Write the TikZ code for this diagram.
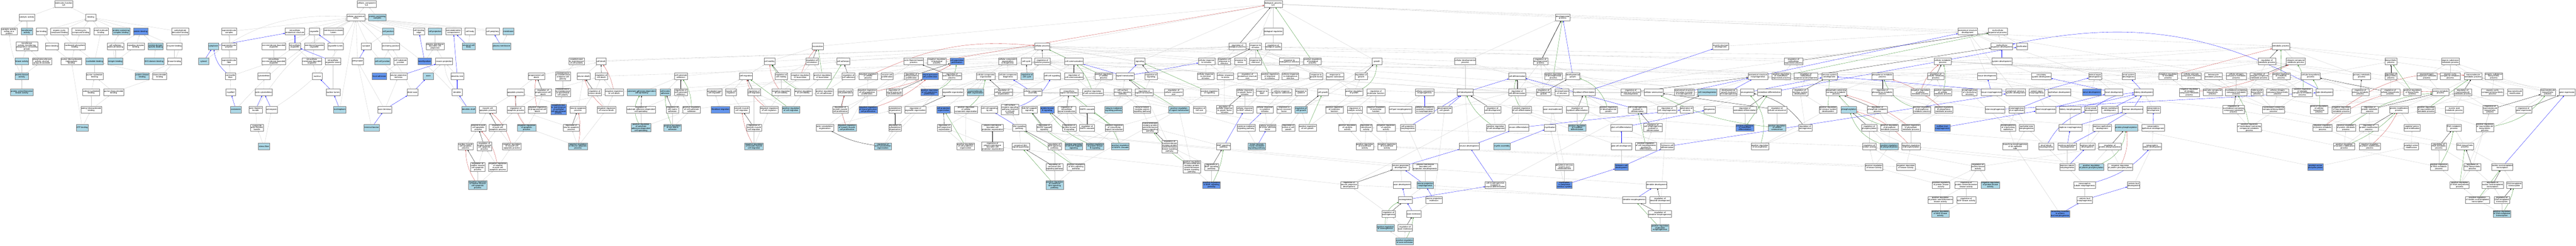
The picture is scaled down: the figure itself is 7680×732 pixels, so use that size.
\documentclass[tikz,border=0pt]{standalone}
\usepackage{fontspec}
\setmainfont{Liberation Sans}
\usetikzlibrary{arrows.meta,backgrounds}
\definecolor{hitblue}{HTML}{ADD8E6}
\definecolor{keyblue}{HTML}{6495ED}
\definecolor{edgegray}{HTML}{C8C8C8}
\definecolor{negred}{HTML}{C83C3C}
\definecolor{posgreen}{HTML}{2E8B22}
\begin{document}
\begin{tikzpicture}[x=1pt, y=-1pt,
  term/.style={rectangle, draw=black!50, line width=.7pt, fill=white, align=center, inner xsep=1.2pt, inner ysep=1pt, minimum width=30pt, minimum height=20pt, font=\fontsize{6.2}{5.8}\selectfont},
  termhit/.style={term, fill=hitblue},
  termkey/.style={term, fill=keyblue},
  isa/.style={draw=edgegray, line width=.5pt, -{Triangle[length=4pt,width=3pt]}},
  partof/.style={isa, draw=blue},
  regl/.style={isa, draw=black},
  negreg/.style={isa, draw=negred},
  posreg/.style={isa, draw=posgreen}]
\useasboundingbox (0,0) rectangle (7680,732);
% molecular function
\node[term] (mf) at (190,12) {molecular\_function\\ILK};
\node[term] (catact) at (80,52) {catalytic activity};
\node[term] (bind) at (271,52) {binding};
\node[term] (catprot) at (27,94) {catalytic activity,\\acting on a\\protein};
\node[termhit] (transf) at (80,94) {transferase\\activity};
\node[term] (ionb) at (124,94) {ion binding};
\node[term] (orgcyc) at (177,94) {organic cyclic\\compound binding};
\node[term] (hetcyc) at (241,94) {heterocyclic\\compound binding};
\node[term] (smallmol) at (301,94) {small molecule\\binding};
\node[termhit] (pccb) at (361,94) {protein-containing\\complex binding};
\node[termkey] (protb) at (419,94) {protein binding};
\node[term] (carbo) at (537,94) {carbohydrate\\derivative binding};
\node[term] (transphos) at (80,138) {transferase\\activity, transferring\\phosphorus-containing\\groups};
\node[term] (anion) at (155,138) {anion binding};
\node[term] (nucphos) at (223,138) {nucleoside phosphate\\binding};
\node[term] (cellad) at (344,138) {cell adhesion\\molecule binding};
\node[term] (sigrec) at (405,138) {signaling receptor\\binding};
\node[termhit] (domspec) at (464,138) {protein domain\\specific binding};
\node[term] (enzb) at (520,138) {enzyme binding};
\node[termhit] (kinact) at (65,183) {kinase activity};
\node[term] (phostr) at (125,183) {phosphotransferase\\activity, alcohol\\group as acceptor};
\node[term] (purtri) at (213,183) {purine ribonucleoside\\triphosphate\\binding};
\node[termhit] (nuctb) at (282,183) {nucleotide binding};
\node[termhit] (integ) at (344,183) {integrin binding};
\node[termhit] (sh3) at (459,183) {SH3 domain binding};
\node[term] (kinb) at (520,183) {kinase binding};
\node[termhit] (pka) at (65,227) {protein kinase\\activity};
\node[term] (purnuc) at (282,227) {purine nucleotide\\binding};
\node[termhit] (pkb) at (424,227) {protein kinase\\binding};
\node[term] (ribonuc) at (476,227) {ribonucleotide\\binding};
\node[termhit] (pstk) at (65,275) {protein serine/threonine\\kinase activity};
\node[term] (adenuc) at (272,275) {adenyl nucleotide\\binding};
\node[term] (purribo) at (339,275) {purine ribonucleotide\\binding};
\node[term] (aderibo) at (272,326) {adenyl ribonucleotide\\binding};
\node[termhit] (atpb) at (245,380) {ATP binding};
\begin{pgfonlayer}{background}
\draw[isa](catact) -- (mf);
\draw[isa](bind) -- (mf);
\draw[isa](catprot) -- (catact);
\draw[isa](transf) -- (catact);
\draw[isa](ionb) -- (bind);
\draw[isa](orgcyc) -- (bind);
\draw[isa](hetcyc) -- (bind);
\draw[isa](smallmol) -- (bind);
\draw[isa](pccb) -- (bind);
\draw[isa](protb) -- (bind);
\draw[isa](carbo) -- (bind);
\draw[isa](transphos) -- (transf);
\draw[isa](anion) -- (ionb);
\draw[isa](nucphos) -- (orgcyc);
\draw[isa](nucphos) -- (hetcyc);
\draw[isa](cellad) -- (protb);
\draw[isa](sigrec) -- (protb);
\draw[isa](domspec) -- (protb);
\draw[isa](enzb) -- (protb);
\draw[isa](kinact) -- (transphos);
\draw[isa](phostr) -- (transphos);
\draw[isa](purtri) -- (anion);
\draw[isa](purtri) -- (nucphos);
\draw[isa](nuctb) -- (nucphos);
\draw[isa](nuctb) -- (smallmol);
\draw[isa](integ) -- (cellad);
\draw[isa](integ) -- (sigrec);
\draw[isa](integ) to[bend left=25] (pccb);
\draw[isa](sh3) -- (domspec);
\draw[isa](kinb) -- (enzb);
\draw[isa](pka) -- (kinact);
\draw[isa](pka) -- (phostr);
\draw[isa](pka) to[bend left=10] (catprot);
\draw[isa](purnuc) -- (nuctb);
\draw[isa](pkb) -- (kinb);
\draw[isa](ribonuc) -- (nuctb);
\draw[isa](ribonuc) to[bend right=25] (carbo);
\draw[isa](pstk) -- (pka);
\draw[isa](adenuc) -- (purnuc);
\draw[isa](purribo) -- (purnuc);
\draw[isa](purribo) -- (ribonuc);
\draw[isa](aderibo) -- (adenuc);
\draw[isa](aderibo) -- (purribo);
\draw[isa](atpb) -- (aderibo);
\draw[isa](atpb) -- (purtri);
\end{pgfonlayer}
% cellular component
\node[term] (cc) at (1093,12) {cellular\_component\\ILK};
\node[term] (cae) at (1061,52) {cellular anatomical\\entity};
\node[termhit] (pcc) at (1125,52) {protein-containing\\complex};
\node[term] (supcx) at (683,94) {supramolecular\\complex};
\node[term] (ias) at (879,94) {intracellular\\anatomical structure};
\node[term] (organ) at (937,94) {organelle};
\node[term] (mel) at (994,94) {membrane-enclosed\\lumen};
\node[termhit] (celljn) at (1157,94) {cell junction};
\node[term] (cle) at (1249,94) {cell leading\\edge};
\node[termhit] (cproj) at (1297,94) {cell projection};
\node[term] (somato) at (1352,94) {somatodendritic\\compartment};
\node[term] (cbody) at (1401,94) {cell body};
\node[term] (cperi) at (1469,94) {cell periphery};
\node[termhit] (memb) at (1516,94) {membrane};
\node[termhit] (cytopl) at (636,138) {cytoplasm};
\node[term] (suppol) at (683,138) {supramolecular\\polymer};
\node[term] (nmbo) at (816,138) {non-membrane-bounded\\organelle};
\node[term] (iorg) at (879,138) {intracellular\\organelle};
\node[term] (mbo) at (937,138) {membrane-bounded\\organelle};
\node[term] (olum) at (1000,138) {organelle lumen};
\node[term] (synapse) at (1092,138) {synapse};
\node[term] (anchj) at (1165,138) {anchoring junction};
\node[term] (pmbcp) at (1297,138) {plasma membrane\\bounded cell\\projection};
\node[termhit] (ncb) at (1397,138) {neuronal cell\\body};
\node[termhit] (pm) at (1495,138) {plasma membrane};
\node[termhit] (cytosol) at (607,183) {cytosol};
\node[term] (supfib) at (683,183) {supramolecular\\fiber};
\node[term] (inmbo) at (816,183) {intracellular\\non-membrane-bounded\\organelle};
\node[term] (imbo) at (930,183) {intracellular\\membrane-bounded\\organelle};
\node[term] (iol) at (993,183) {intracellular\\organelle lumen};
\node[term] (presyn) at (1066,183) {presynapse};
\node[termhit] (ccj) at (1140,183) {cell-cell junction};
\node[term] (csj) at (1194,183) {cell-substrate\\junction};
\node[termkey] (lamel) at (1266,183) {lamellipodium};
\node[term] (nproj) at (1324,183) {neuron projection};
\node[term] (cfib) at (687,227) {contractile\\fiber};
\node[term] (cytosk) at (787,227) {cytoskeleton};
\node[term] (nucleus) at (946,227) {nucleus};
\node[termkey] (focad) at (1131,227) {focal adhesion};
\node[term] (npt) at (1188,227) {neuron projection\\terminus};
\node[termhit] (axon) at (1277,227) {axon};
\node[term] (dtree) at (1363,227) {dendritic tree};
\node[term] (myofib) at (688,275) {myofibril};
\node[term] (actcsk) at (786,275) {actin cytoskeleton};
\node[term] (nuclum) at (993,275) {nuclear lumen};
\node[term] (distax) at (1230,275) {distal axon};
\node[term] (dendr) at (1363,275) {dendrite};
\node[termhit] (costa) at (703,326) {costamere};
\node[term] (afb) at (762,326) {actin filament\\bundle};
\node[term] (actomy) at (810,326) {actomyosin};
\node[termhit] (nucpl) at (1013,326) {nucleoplasm};
\node[term] (axterm) at (1147,326) {axon terminus};
\node[termhit] (dshaft) at (1397,326) {dendritic shaft};
\node[term] (cafb) at (766,380) {contractile\\actin filament\\bundle};
\node[termhit] (tbout) at (1108,380) {terminal bouton};
\node[termhit] (sfib) at (787,436) {stress fiber};
\begin{pgfonlayer}{background}
\draw[isa](cae) -- (cc);
\draw[isa](pcc) -- (cc);
\draw[isa](supcx) -- (cae);
\draw[isa](ias) -- (cae);
\draw[isa](organ) -- (cae);
\draw[isa](mel) -- (cae);
\draw[isa](celljn) -- (cae);
\draw[isa](cle) -- (cae);
\draw[isa](cproj) -- (cae);
\draw[isa](somato) -- (cae);
\draw[isa](cbody) -- (cae);
\draw[isa](cperi) -- (cae);
\draw[isa](memb) -- (cae);
\draw[isa](suppol) -- (supcx);
\draw[isa](nmbo) -- (organ);
\draw[isa](iorg) -- (organ);
\draw[isa](mbo) -- (organ);
\draw[isa](olum) -- (mel);
\draw[isa](synapse) -- (celljn);
\draw[isa](anchj) -- (celljn);
\draw[isa](pmbcp) -- (cproj);
\draw[isa](ncb) -- (cbody);
\draw[isa](pm) -- (memb);
\draw[isa](supfib) -- (suppol);
\draw[isa](inmbo) -- (nmbo);
\draw[isa](inmbo) -- (iorg);
\draw[isa](imbo) -- (mbo);
\draw[isa](imbo) -- (iorg);
\draw[isa](iol) -- (olum);
\draw[isa](ccj) -- (anchj);
\draw[isa](csj) -- (anchj);
\draw[isa](lamel) -- (pmbcp);
\draw[isa](nproj) -- (pmbcp);
\draw[isa](cfib) -- (supfib);
\draw[isa](cfib) -- (inmbo);
\draw[isa](cytosk) -- (inmbo);
\draw[isa](nucleus) -- (imbo);
\draw[isa](focad) -- (csj);
\draw[isa](npt) to[bend left=15] (cae);
\draw[isa](axon) -- (nproj);
\draw[isa](dtree) -- (nproj);
\draw[isa](myofib) -- (cfib);
\draw[isa](actcsk) -- (cytosk);
\draw[isa](nuclum) -- (iol);
\draw[isa](distax) to[bend right=10] (cae);
\draw[isa](dendr) to[bend left=15] (nproj);
\draw[isa](costa) to[bend left=10] (cae);
\draw[isa](afb) to[bend left=15] (cae);
\draw[isa](actomy) to[bend right=15] (cae);
\draw[isa](nucpl) -- (cae);
\draw[isa](presyn) -- (cae);
\draw[isa](cytosol) to[bend left=20] (cae);
\draw[isa](axterm) -- (npt);
\draw[isa](axterm) -- (presyn);
\draw[isa](dshaft) to[bend right=10] (cae);
\draw[isa](cafb) -- (afb);
\draw[isa](tbout) -- (presyn);
\draw[isa](sfib) -- (cafb);
\draw[isa](sfib) -- (actomy);
\draw[partof](cytopl) -- (ias);
\draw[partof](cytosol) -- (cytopl);
\draw[partof](iorg) -- (ias);
\draw[partof](olum) -- (organ);
\draw[partof](iol) -- (iorg);
\draw[partof](presyn) -- (synapse);
\draw[partof](lamel) -- (cle);
\draw[partof](npt) -- (nproj);
\draw[partof](ncb) -- (somato);
\draw[partof](pm) -- (cperi);
\draw[partof](cfib) to[bend left=20] (cytopl);
\draw[partof](dtree) -- (somato);
\draw[partof](nuclum) -- (nucleus);
\draw[partof](distax) -- (axon);
\draw[partof](dendr) -- (dtree);
\draw[partof](costa) -- (myofib);
\draw[partof](afb) -- (actcsk);
\draw[partof](actomy) -- (actcsk);
\draw[partof](nucpl) -- (nuclum);
\draw[partof](axterm) -- (distax);
\draw[partof](dshaft) -- (dendr);
\draw[partof](tbout) -- (axterm);
\end{pgfonlayer}
% biological process
\node[term] (apop) at (1537,275) {apoptotic process};
\node[term] (pcd) at (1599,227) {programmed cell\\death};
\node[term] (mcap) at (1454,326) {muscle cell\\apoptotic process};
\node[term] (regap) at (1538,326) {regulation of\\apoptotic process};
\node[term] (smcap) at (1426,380) {striated muscle\\cell apoptotic\\process};
\node[term] (regmcap) at (1484,380) {regulation of\\muscle cell\\apoptotic process};
\node[termhit] (nregap) at (1570,380) {negative regulation\\of apoptotic\\process};
\node[term] (cmcap) at (1388,436) {cardiac muscle\\cell apoptotic\\process};
\node[term] (regsmcap) at (1444,436) {regulation of\\striated muscle\\cell apoptotic\\process};
\node[term] (nregmcap) at (1526,436) {negative regulation\\of muscle cell\\apoptotic process};
\node[term] (regcmcap) at (1424,497) {regulation of\\cardiac muscle\\cell apoptotic\\process};
\node[term] (nregsmcap) at (1484,497) {negative regulation\\of striated\\muscle cell\\apoptotic process};
\node[termhit] (nregcmcap) at (1424,551) {negative regulation\\of cardiac muscle\\cell apoptotic\\process};
\node[term] (ecpol) at (1719,183) {establishment\\or maintenance\\of cell polarity};
\node[term] (celldeath) at (1792,183) {cell death};
\node[term] (cmot) at (2294,183) {cell motility};
\node[term] (regloc) at (2421,183) {regulation of\\locomotion};
\node[term] (cadh) at (2514,183) {cell adhesion};
\node[term] (locom) at (2438,138) {locomotion};
\node[term] (ebpol) at (1678,227) {establishment\\or maintenance\\of bipolar cell\\polarity};
\node[term] (ndeath) at (1740,227) {neuron death};
\node[term] (regcd) at (1793,227) {regulation of\\cell death};
\node[term] (csadh) at (2030,227) {cell-substrate\\adhesion};
\node[term] (cmig) at (2224,227) {cell migration};
\node[term] (regcmot) at (2329,227) {regulation of\\cell motility};
\node[term] (nregloc) at (2386,227) {negative regulation\\of locomotion};
\node[term] (pregloc) at (2452,227) {positive regulation\\of locomotion};
\node[term] (regcadh) at (2530,227) {regulation of\\cell adhesion};
\node[term] (regpcd) at (1619,275) {regulation of\\programmed cell\\death};
\node[term] (eapol) at (1678,275) {establishment\\or maintenance\\of apical/basal\\cell polarity};
\node[term] (regnd) at (1773,275) {regulation of\\neuron death};
\node[term] (nregcd) at (1831,275) {negative regulation\\of cell death};
\node[termhit] (sadcs) at (1913,275) {substrate adhesion-dependent\\cell spreading};
\node[termhit] (cmadh) at (1983,275) {cell-matrix\\adhesion};
\node[term] (regcsadh) at (2030,275) {regulation of\\cell-substrate\\adhesion};
\node[term] (ameb) at (2130,275) {ameboidal-type\\cell migration};
\node[term] (mcmig) at (2179,275) {muscle cell\\migration};
\node[term] (regcmig) at (2248,275) {regulation of\\cell migration};
\node[term] (nregcmot) at (2329,275) {negative regulation\\of cell motility};
\node[term] (pregcmot) at (2395,275) {positive regulation\\of cell motility};
\node[term] (pregcadh) at (2458,275) {positive regulation\\of cell adhesion};
\node[term] (smcprol) at (2520,275) {smooth muscle\\cell proliferation};
\node[term] (nregpcd) at (1602,326) {negative regulation\\of programmed cell\\death};
\node[termkey] (eepol) at (1665,326) {establishment\\or maintenance\\of epithelial\\cell apical/basal\\polarity};
\node[term] (napop) at (1723,326) {neuron apoptotic\\process};
\node[term] (nregnd) at (1808,326) {negative regulation\\of neuron death};
\node[term] (regsadcs) at (1911,326) {regulation of\\substrate adhesion-dependent\\cell spreading};
\node[term] (regcmadh) at (2005,326) {regulation of\\cell-matrix\\adhesion};
\node[term] (pregcsadh) at (2062,326) {positive regulation\\of cell-substrate\\adhesion};
\node[termkey] (fibmig) at (2148,326) {fibroblast migration};
\node[term] (smcmig) at (2211,326) {smooth muscle\\cell migration};
\node[term] (nregcmig) at (2293,326) {negative regulation\\of cell migration};
\node[termhit] (pregcmig) at (2358,326) {positive regulation\\of cell migration};
\node[term] (regsmcprol) at (2505,326) {regulation of\\smooth muscle\\cell proliferation};
\node[term] (regnap) at (1703,380) {regulation of\\neuron apoptotic\\process};
\node[termhit] (pregsadcs) at (1911,380) {positive regulation\\of substrate\\adhesion-dependent\\cell spreading};
\node[termhit] (pregcmadh) at (2005,380) {positive regulation\\of cell-matrix\\adhesion};
\node[term] (regsmcmig) at (2248,380) {regulation of\\smooth muscle\\cell migration};
\node[term] (actcsko) at (2459,380) {actin cytoskeleton\\organization};
\node[termhit] (nregsmcprol) at (2525,380) {negative regulation\\of smooth muscle\\cell proliferation};
\node[termhit] (nregnap) at (1723,436) {negative regulation\\of neuron apoptotic\\process};
\node[termhit] (nregsmcmig) at (2248,436) {negative regulation\\of smooth muscle\\cell migration};
\node[term] (cellproc) at (3107,138) {cellular process};
\node[term] (afbp) at (2724,183) {actin filament-based\\process};
\node[term] (nregbp) at (2793,183) {negative regulation\\of biological\\process};
\node[termkey] (cpp) at (2853,183) {cell population\\proliferation};
\node[term] (ccob) at (3004,183) {cellular component\\organization\\or biogenesis};
\node[term] (ccycle) at (3060,183) {cell cycle};
\node[term] (regcp) at (3108,183) {regulation of\\cellular process};
\node[term] (ccomm) at (3202,183) {cell communication};
\node[term] (signaling) at (3398,183) {signaling};
\node[term] (nregcp) at (2588,227) {negative regulation\\of cellular\\process};
\node[term] (mcprol) at (2645,227) {muscle cell\\proliferation};
\node[term] (regcpp) at (2717,227) {regulation of\\cell population\\proliferation};
\node[termkey] (npcp) at (2773,227) {neural precursor\\cell proliferation};
\node[term] (regafbp) at (2838,227) {regulation of\\actin filament-based\\process};
\node[term] (cco) at (2939,227) {cellular component\\organization};
\node[term] (ccb) at (3005,227) {cellular component\\biogenesis};
\node[termhit] (regcc) at (3062,227) {regulation of\\cell cycle};
\node[term] (ccsig) at (3137,227) {cell-cell signaling};
\node[term] (regccomm) at (3202,227) {regulation of\\cell communication};
\node[term] (pregcp) at (3290,227) {positive regulation\\of cellular\\process};
\node[term] (sigtr) at (3354,227) {signal transduction};
\node[term] (regsig) at (3432,227) {regulation of\\signaling};
\node[term] (nregcpp) at (2585,275) {negative regulation\\of cell population\\proliferation};
\node[term] (regnpcp) at (2666,275) {regulation of\\neural precursor\\cell proliferation};
\node[termkey] (pregcpp) at (2771,275) {positive regulation\\of cell population\\proliferation};
\node[term] (orgo) at (2841,275) {organelle organization};
\node[termhit] (sfo) at (2908,275) {supramolecular\\fiber organization};
\node[term] (regcco) at (2992,275) {regulation of\\cellular component\\organization};
\node[term] (cca) at (3079,275) {cellular component\\assembly};
\node[term] (ist) at (3187,275) {intracellular\\signal transduction};
\node[term] (pregccomm) at (3258,275) {positive regulation\\of cell communication};
\node[term] (csrsp) at (3347,275) {cell surface\\receptor signaling\\pathway};
\node[term] (regst) at (3411,275) {regulation of\\signal transduction};
\node[term] (regccs) at (3499,275) {regulation of\\cellular component\\size};
\node[termkey] (nregnpcp) at (2588,326) {negative regulation\\of neural precursor\\cell proliferation};
\node[term] (csko) at (2668,326) {cytoskeleton\\organization};
\node[term] (regorgo) at (2729,326) {regulation of\\organelle organization};
\node[termkey] (cpo) at (2813,326) {cell projection\\organization};
\node[term] (pregcco) at (2880,326) {positive regulation\\of cellular\\component organization};
\node[term] (ccswnt) at (2950,326) {cell-cell signaling\\by wnt};
\node[term] (csrccs) at (3011,326) {cell surface\\receptor signaling\\pathway involved\\in cell-cell\\signaling};
\node[term] (nfkb) at (3069,326) {NIK/NF-kappaB\\signaling};
\node[termkey] (pkbs) at (3122,326) {protein kinase\\B signaling};
\node[term] (regist) at (3180,326) {regulation of\\intracellular\\signal transduction};
\node[term] (mapk) at (3241,326) {MAPK cascade};
\node[termhit] (intsig) at (3320,326) {integrin-mediated\\signaling pathway};
\node[term] (elrp) at (3405,326) {enzyme-linked\\receptor protein\\signaling pathway};
\node[termhit] (pregst) at (3515,326) {positive regulation\\of signal transduction};
\node[term] (regcsko) at (2668,380) {regulation of\\cytoskeleton\\organization};
\node[term] (regcpo) at (2815,380) {regulation of\\cell projection\\organization};
\node[term] (pmbcpo) at (2959,380) {plasma membrane\\bounded cell\\projection organization};
\node[term] (wnt) at (3039,380) {Wnt signaling\\pathway};
\node[term] (regnfkb) at (3113,380) {regulation of\\NIK/NF-kappaB\\signaling};
\node[term] (regpkbs) at (3188,380) {regulation of\\protein kinase\\B signaling};
\node[term] (regmapk) at (3241,380) {regulation of\\MAPK cascade};
\node[term] (pregist) at (3322,380) {positive regulation\\of intracellular\\signal transduction};
\node[term] (tmrst) at (3429,380) {transmembrane\\receptor protein\\serine/threonine\\kinase signaling\\pathway};
\node[termhit] (regacsko) at (2632,436) {regulation of\\actin cytoskeleton\\organization};
\node[term] (pregcpo) at (2879,436) {positive regulation\\of cell projection\\organization};
\node[term] (regpmbcpo) at (2959,436) {regulation of\\plasma membrane\\bounded cell\\projection organization};
\node[term] (cwnt) at (3043,436) {canonical Wnt\\signaling pathway};
\node[term] (regwnt) at (3144,436) {regulation of\\Wnt signaling\\pathway};
\node[termhit] (pregnfkb) at (3201,436) {positive regulation\\of NIK/NF-kappaB\\signaling};
\node[termhit] (pregpkbs) at (3265,436) {positive regulation\\of protein kinase\\B signaling};
\node[termhit] (pregmapk) at (3340,436) {positive regulation\\of MAPK cascade};
\node[term] (regtmrst) at (3487,436) {regulation of\\transmembrane\\receptor protein\\serine/threonine\\kinase signaling\\pathway};
\node[term] (regcwnt) at (3144,497) {regulation of\\canonical Wnt\\signaling pathway};
\node[term] (pregwnt) at (3208,497) {positive regulation\\of Wnt signaling\\pathway};
\node[term] (pregtmrst) at (3553,497) {positive regulation\\of transmembrane\\receptor protein\\serine/threonine\\kinase signaling\\pathway};
\node[termhit] (pregcwnt) at (3144,551) {positive regulation\\of canonical\\Wnt signaling\\pathway};
\node[term] (bp) at (3796,12) {biological\_process\\ILK};
\node[term] (bioreg) at (3796,94) {biological regulation};
\node[term] (regbp) at (3689,138) {regulation of\\biological process};
\node[term] (rstim) at (3743,138) {response to\\stimulus};
\node[term] (regbq) at (3796,138) {regulation of\\biological quality};
\node[term] (crstim) at (3597,183) {cellular response\\to stimulus};
\node[term] (regrstim) at (3650,183) {regulation of\\response to\\stimulus};
\node[term] (rstress) at (3698,183) {response to\\stress};
\node[term] (rchem) at (3743,183) {response to\\chemical};
\node[term] (rendo) at (3844,183) {response to\\endogenous stimulus};
\node[term] (pregbp) at (3913,183) {positive regulation\\of biological\\process};
\node[term] (growth) at (4105,183) {growth};
\node[term] (cdp) at (4368,183) {cellular developmental\\process};
\node[term] (regdp) at (4593,183) {regulation of\\developmental\\process};
\node[term] (crchem) at (3594,227) {cellular response\\to chemical\\stimulus};
\node[term] (crstress) at (3653,227) {cellular response\\to stress};
\node[term] (regass) at (3719,227) {regulation of\\anatomical structure\\size};
\node[term] (pregrstim) at (3786,227) {positive regulation\\of response\\to stimulus};
\node[term] (crendo) at (3847,227) {cellular response\\to endogenous\\stimulus};
\node[term] (rgf) at (3924,227) {response to\\growth factor};
\node[term] (ros) at (3980,227) {response to\\organic substance};
\node[term] (reggr) at (4058,227) {regulation of\\growth};
\node[term] (cdiff) at (4523,227) {cell differentiation};
\node[term] (pregsig) at (3606,275) {positive regulation\\of signaling};
\node[term] (crgf) at (3711,275) {cellular response\\to growth factor\\stimulus};
\node[term] (rbmp) at (3763,275) {response to\\BMP};
\node[term] (cros) at (3821,275) {cellular response\\to organic substance};
\node[term] (rcyt) at (3879,275) {response to\\cytokine};
\node[term] (cgrowth) at (3944,275) {cell growth};
\node[term] (preggr) at (4037,275) {positive regulation\\of growth};
\node[term] (regmf) at (4102,275) {regulation of\\molecular function};
\node[term] (ccmorph) at (4247,275) {cellular component\\morphogenesis};
\node[term] (cdev) at (4368,275) {cell development};
\node[term] (regcdiff) at (4523,275) {regulation of\\cell differentiation};
\node[term] (regcsize) at (3576,326) {regulation of\\cell size};
\node[term] (regcrgf) at (3651,326) {regulation of\\cellular response\\to growth factor\\stimulus};
\node[term] (crbmp) at (3711,326) {cellular response\\to BMP stimulus};
\node[term] (crcyt) at (3771,326) {cellular response\\to cytokine\\stimulus};
\node[term] (rtnf) at (3828,326) {response to\\tumor necrosis\\factor};
\node[termhit] (regcg) at (3879,326) {regulation of\\cell growth};
\node[term] (pregmf) at (3978,326) {positive regulation\\of molecular\\function};
\node[term] (regca) at (4039,326) {regulation of\\catalytic activity};
\node[term] (nregmf) at (4102,326) {negative regulation\\of molecular\\function};
\node[term] (cpmorph) at (4175,326) {cell part morphogenesis};
\node[term] (ccaim) at (4247,326) {cellular component\\assembly involved\\in morphogenesis};
\node[term] (devcg) at (4307,326) {developmental\\cell growth};
\node[term] (regcdev) at (4450,326) {regulation of\\cell development};
\node[term] (pregcdiff) at (4537,326) {positive regulation\\of cell differentiation};
\node[term] (cytsig) at (3715,380) {cytokine-mediated\\signaling pathway};
\node[term] (crtnf) at (3779,380) {cellular response\\to tumor necrosis\\factor};
\node[term] (regecg) at (3841,380) {regulation of\\extent of cell\\growth};
\node[term] (pregcg) at (3898,380) {positive regulation\\of cell growth};
\node[term] (pregca) at (4017,380) {positive regulation\\of catalytic\\activity};
\node[term] (regta) at (4073,380) {regulation of\\transferase\\activity};
\node[term] (nregca) at (4132,380) {negative regulation\\of catalytic\\activity};
\node[term] (cprojmorph) at (4197,380) {cell projection\\morphogenesis};
\node[term] (pregcdev) at (4459,380) {positive regulation\\of cell development};
\node[term] (ndiff) at (4528,380) {neuron differentiation};
\node[term] (bmpsig) at (3648,436) {BMP signaling\\pathway};
\node[termhit] (tnfsig) at (3747,436) {tumor necrosis\\factor-mediated\\signaling pathway};
\node[term] (pregta) at (4069,436) {positive regulation\\of transferase\\activity};
\node[term] (nregta) at (4135,436) {negative regulation\\of transferase\\activity};
\node[term] (ndev) at (4380,436) {neuron development};
\node[termhit] (myelas) at (4478,436) {myelin assembly};
\node[term] (regbmp) at (3612,497) {regulation of\\BMP signaling\\pathway};
\node[term] (npdev) at (4176,497) {neuron projection\\development};
\node[term] (pmbcpm) at (4249,497) {plasma membrane\\bounded cell\\projection morphogenesis};
\node[termkey] (pregbmp) at (3612,551) {positive regulation\\of BMP signaling\\pathway};
\node[term] (regnpd) at (4022,551) {regulation of\\neuron projection\\development};
\node[term] (axdev) at (4180,551) {axon development};
\node[termhit] (npmorph) at (4249,551) {neuron projection\\morphogenesis};
\node[term] (cmind) at (4458,551) {cell morphogenesis\\involved in\\neuron differentiation};
\node[term] (axgen) at (4190,595) {axonogenesis};
\node[term] (npext) at (4275,595) {neuron projection\\extension};
\node[term] (regaxgen) at (4140,637) {regulation of\\axonogenesis};
\node[term] (axext) at (4215,637) {axon extension};
\node[termhit] (pregaxgen) at (4130,679) {positive regulation\\of axonogenesis};
\node[term] (regaxext) at (4189,679) {regulation of\\axon extension};
\node[termhit] (pregaxext) at (4188,719) {positive regulation\\of axon extension};
\node[term] (devproc) at (4659,52) {developmental\\process};
\node[term] (msdev) at (5130,138) {muscle structure\\development};
\node[term] (regmop) at (5347,183) {regulation of\\multicellular\\organismal process};
\node[term] (pregdp) at (4631,227) {positive regulation\\of developmental\\process};
\node[term] (devgr) at (4689,227) {developmental\\growth};
\node[term] (asmorph) at (5241,227) {anatomical structure\\morphogenesis};
\node[term] (pregmop) at (5310,227) {positive regulation\\of multicellular\\organismal process};
\node[term] (regmod) at (5384,227) {regulation of\\multicellular\\organismal development};
\node[term] (nsdev) at (5454,227) {nervous system\\development};
\node[term] (regdevgr) at (4602,275) {regulation of\\developmental\\growth};
\node[term] (ensh) at (4657,275) {ensheathment\\of neurons};
\node[term] (myodiff) at (4723,275) {myoblast differentiation};
\node[term] (regasm) at (4862,275) {regulation of\\anatomical structure\\morphogenesis};
\node[term] (csen) at (4930,275) {cellular senescence};
\node[term] (asfim) at (5021,275) {anatomical structure\\formation involved\\in morphogenesis};
\node[termhit] (cmorph) at (5090,275) {cell morphogenesis};
\node[term] (dgim) at (5153,275) {developmental\\growth involved\\in morphogenesis};
\node[term] (neurog) at (5209,275) {neurogenesis};
\node[term] (osteo) at (5275,275) {osteoblast differentiation};
\node[term] (regnsd) at (5367,275) {regulation of\\nervous system\\development};
\node[term] (pccmp) at (5474,275) {phosphate-containing\\compound metabolic\\process};
\node[term] (axensh) at (4629,326) {axon ensheathment};
\node[term] (regmyo) at (4702,326) {regulation of\\myoblast differentiation};
\node[term] (pregdevgr) at (4795,326) {positive regulation\\of developmental\\growth};
\node[term] (cmid) at (4882,326) {cell morphogenesis\\involved in\\differentiation};
\node[term] (regcmorph) at (4970,326) {regulation of\\cell morphogenesis};
\node[term] (genneu) at (5028,326) {generation of\\neurons};
\node[term] (glio) at (5097,326) {gliogenesis};
\node[term] (regosteo) at (5202,326) {regulation of\\osteoblast differentiation};
\node[term] (regcsen) at (5298,326) {regulation of\\cellular senescence};
\node[term] (pregnsd) at (5450,326) {positive regulation\\of nervous system\\development};
\node[termhit] (phos) at (5512,326) {phosphorylation};
\node[term] (myel) at (4621,380) {myelination};
\node[termhit] (pregmyo) at (4702,380) {positive regulation\\of myoblast\\differentiation};
\node[term] (gcdiff) at (4834,380) {glial cell differentiation};
\node[term] (regcmid) at (4928,380) {regulation of\\cell morphogenesis\\involved in\\differentiation};
\node[termkey] (pregosteo) at (5202,380) {positive regulation\\of osteoblast\\differentiation};
\node[termhit] (pregcsen) at (5298,380) {positive regulation\\of cellular\\senescence};
\node[term] (regneurog) at (5382,380) {regulation of\\neurogenesis};
\node[term] (gcdev) at (4834,436) {glial cell development};
\node[term] (pregcmid) at (4907,436) {positive regulation\\of cell morphogenesis\\involved in\\differentiation};
\node[term] (scdiff) at (4971,436) {Schwann cell\\differentiation};
\node[term] (pregneurog) at (5247,436) {positive regulation\\of neurogenesis};
\node[term] (pnsae) at (4664,497) {peripheral nervous\\system axon\\ensheathment};
\node[termkey] (scdev) at (4834,497) {Schwann cell\\development};
\node[termkey] (myelpns) at (4664,551) {myelination\\in peripheral\\nervous system};
\node[term] (ddev) at (4939,551) {dendrite development};
\node[term] (dmorph) at (4872,595) {dendrite morphogenesis};
\node[term] (regddev) at (4949,595) {regulation of\\dendrite development};
\node[term] (regdmorph) at (4949,637) {regulation of\\dendrite morphogenesis};
\node[termhit] (pregdmorph) at (4949,679) {positive regulation\\of dendrite\\morphogenesis};
\node[term] (asdev) at (5866,94) {anatomical structure\\development};
\node[term] (mop) at (5956,94) {multicellular\\organismal process};
\node[term] (mod) at (5968,138) {multicellular\\organism development};
\node[term] (ossif) at (6028,138) {ossification};
\node[term] (cmp) at (5792,183) {cellular metabolic\\process};
\node[term] (sysdev) at (5968,183) {system development};
\node[term] (phmp) at (5612,227) {phosphorus metabolic\\process};
\node[term] (regcmp) at (5771,227) {regulation of\\cellular metabolic\\process};
\node[term] (tisdev) at (5924,227) {tissue development};
\node[term] (circdev) at (6086,227) {circulatory\\system development};
\node[term] (aodev) at (6246,227) {animal organ\\development};
\node[term] (rsdev) at (6346,227) {renal system\\development};
\node[term] (nregmp) at (6464,227) {negative regulation\\of metabolic\\process};
\node[term] (camp) at (6533,227) {cellular aromatic\\compound metabolic\\process};
\node[term] (regphmp) at (5612,275) {regulation of\\phosphorus metabolic\\process};
\node[term] (nregcmp) at (5725,275) {negative regulation\\of cellular\\metabolic process};
\node[term] (pregcmp) at (5792,275) {positive regulation\\of cellular\\metabolic process};
\node[term] (mbs) at (5872,275) {morphogenesis\\of a branching\\structure};
\node[term] (tismorph) at (5937,275) {tissue morphogenesis};
\node[term] (pnsdev) at (6009,275) {peripheral nervous\\system development};
\node[term] (aomorph) at (6072,275) {animal organ\\morphogenesis};
\node[term] (epidev) at (6140,275) {epithelium development};
\node[termkey] (nervedev) at (6236,275) {nerve development};
\node[term] (heartdev) at (6302,275) {heart development};
\node[term] (kiddev) at (6391,275) {kidney development};
\node[term] (nregncmp) at (6527,275) {negative regulation\\of nitrogen\\compound metabolic\\process};
\node[term] (regphtmp) at (5597,326) {regulation of\\phosphate metabolic\\process};
\node[term] (pregphmp) at (5730,326) {positive regulation\\of phosphorus\\metabolic process};
\node[term] (nregphmp) at (5795,326) {negative regulation\\of phosphorus\\metabolic process};
\node[term] (tubemorph) at (5948,326) {tube morphogenesis};
\node[term] (moe) at (6012,326) {morphogenesis\\of an epithelium};
\node[term] (heartmorph) at (6099,326) {heart morphogenesis};
\node[term] (kidmorph) at (6172,326) {kidney morphogenesis};
\node[term] (rtdev) at (6234,326) {renal tubule\\development};
\node[term] (kedev) at (6290,326) {kidney epithelium\\development};
\node[term] (nephdev) at (6358,326) {nephron development};
\node[term] (mesodev) at (6420,326) {mesonephros\\development};
\node[term] (regphos) at (5573,380) {regulation of\\phosphorylation};
\node[term] (pregphtmp) at (5633,380) {positive regulation\\of phosphate\\metabolic process};
\node[term] (nregphtmp) at (5697,380) {negative regulation\\of phosphate\\metabolic process};
\node[termkey] (oftm) at (5791,380) {outflow tract\\morphogenesis};
\node[term] (mobe) at (5987,380) {morphogenesis\\of a branching\\epithelium};
\node[term] (etm) at (6042,380) {epithelial tube\\morphogenesis};
\node[term] (nephmorph) at (6172,380) {nephron morphogenesis};
\node[term] (nedev) at (6267,380) {nephron epithelium\\development};
\node[termhit] (pphos) at (6339,380) {protein phosphorylation};
\node[term] (medev) at (6419,380) {mesonephric\\epithelium development};
\node[term] (regka) at (5573,436) {regulation of\\kinase activity};
\node[termhit] (pregphos) at (5632,436) {positive regulation\\of phosphorylation};
\node[term] (nregphos) at (5697,436) {negative regulation\\of phosphorylation};
\node[term] (bmet) at (6008,436) {branching morphogenesis\\of an epithelial\\tube};
\node[term] (rtmorph) at (6100,436) {renal tubule\\morphogenesis};
\node[term] (nemorph) at (6163,436) {nephron epithelium\\morphogenesis};
\node[term] (ntdev) at (6223,436) {nephron tubule\\development};
\node[term] (regpphos) at (6290,436) {regulation of\\protein phosphorylation};
\node[term] (mtdev) at (6416,436) {mesonephric\\tubule development};
\node[term] (pregka) at (5587,497) {positive regulation\\of kinase activity};
\node[term] (nregka) at (5682,497) {negative regulation\\of kinase activity};
\node[term] (regpka) at (5897,497) {regulation of\\protein kinase\\activity};
\node[term] (ntmorph) at (6163,497) {nephron tubule\\morphogenesis};
\node[termhit] (pregpphos) at (6235,497) {positive regulation\\of protein phosphorylation};
\node[term] (nregpphos) at (6321,497) {negative regulation\\of protein phosphorylation};
\node[term] (pregpka) at (5787,551) {positive regulation\\of protein kinase\\activity};
\node[term] (regpstka) at (5862,551) {regulation of\\protein serine/threonine\\kinase activity};
\node[termhit] (nregpka) at (5934,551) {negative regulation\\of protein kinase\\activity};
\node[term] (mtmorph) at (6215,551) {mesonephric\\tubule morphogenesis};
\node[term] (ubdev) at (6361,551) {ureteric bud\\development};
\node[term] (pregpstka) at (5785,595) {positive regulation\\of protein serine/threonine\\kinase activity};
\node[term] (regmapka) at (5862,595) {regulation of\\MAP kinase activity};
\node[term] (ubmorph) at (6215,595) {ureteric bud\\morphogenesis};
\node[termhit] (pregmapka) at (5785,637) {positive regulation\\of MAP kinase\\activity};
\node[termkey] (bubm) at (6142,637) {branching involved\\in ureteric\\bud morphogenesis};
\node[term] (metab) at (6800,138) {metabolic process};
\node[term] (regmp) at (6758,183) {regulation of\\metabolic process};
\node[term] (ncmp) at (6844,183) {nitrogen compound\\metabolic process};
\node[term] (biosyn) at (7128,183) {biosynthetic\\process};
\node[term] (osmp) at (7305,183) {organic substance\\metabolic process};
\node[term] (hetmp) at (6599,227) {heterocycle\\metabolic process};
\node[term] (cncmp) at (6667,227) {cellular nitrogen\\compound metabolic\\process};
\node[term] (regncmp) at (6735,227) {regulation of\\nitrogen compound\\metabolic process};
\node[term] (pregmp) at (6801,227) {positive regulation\\of metabolic\\process};
\node[term] (cbp) at (6889,227) {cellular biosynthetic\\process};
\node[term] (primp) at (7041,227) {primary metabolic\\process};
\node[term] (regbiosyn) at (7128,227) {regulation of\\biosynthetic\\process};
\node[term] (oncmp) at (7235,227) {organonitrogen\\compound metabolic\\process};
\node[term] (occmp) at (7305,227) {organic cyclic\\compound metabolic\\process};
\node[term] (mmp) at (7373,227) {macromolecule\\metabolic process};
\node[term] (osbp) at (7435,227) {organic substance\\biosynthetic\\process};
\node[term] (acbp) at (6596,275) {aromatic compound\\biosynthetic\\process};
\node[term] (nbcmp) at (6667,275) {nucleobase-containing\\compound metabolic\\process};
\node[term] (hetbp) at (6729,275) {heterocycle\\biosynthetic\\process};
\node[term] (cncbp) at (6790,275) {cellular nitrogen\\compound biosynthetic\\process};
\node[term] (pregncmp) at (6864,275) {positive regulation\\of nitrogen\\compound metabolic\\process};
\node[term] (tubedev) at (6930,275) {tube development};
\node[term] (regprimp) at (7037,275) {regulation of\\primary metabolic\\process};
\node[term] (regcbp) at (7126,275) {regulation of\\cellular biosynthetic\\process};
\node[term] (pregbiosyn) at (7192,275) {positive regulation\\of biosynthetic\\process};
\node[term] (protmp) at (7276,275) {protein metabolic\\process};
\node[term] (regmmp) at (7342,275) {regulation of\\macromolecule\\metabolic process};
\node[term] (occbp) at (7431,275) {organic cyclic\\compound biosynthetic\\process};
\node[term] (mmod) at (7498,275) {macromolecule\\modification};
\node[term] (mbp) at (7596,275) {macromolecule\\biosynthetic\\process};
\node[term] (geneexp) at (7653,275) {gene expression};
\node[term] (regnbcmp) at (6659,326) {regulation of\\nucleobase-containing\\compound metabolic\\process};
\node[term] (nbcbp) at (6778,326) {nucleobase-containing\\compound biosynthetic\\process};
\node[term] (pregcbp) at (6914,326) {positive regulation\\of cellular\\biosynthetic\\process};
\node[term] (nregmmp) at (6980,326) {negative regulation\\of macromolecule\\metabolic process};
\node[term] (regprotmp) at (7065,326) {regulation of\\protein metabolic\\process};
\node[term] (pmodp) at (7152,326) {protein modification\\process};
\node[term] (pregmmp) at (7233,326) {positive regulation\\of macromolecule\\metabolic process};
\node[term] (nacmp) at (7317,326) {nucleic acid\\metabolic process};
\node[term] (regmbp) at (7424,326) {regulation of\\macromolecule\\biosynthetic\\process};
\node[term] (reggeneexp) at (7524,326) {regulation of\\gene expression};
\node[term] (pregnbcmp) at (6706,380) {positive regulation\\of nucleobase-containing\\compound metabolic\\process};
\node[term] (nregprotmp) at (6924,380) {negative regulation\\of protein metabolic\\process};
\node[term] (pregprotmp) at (6994,380) {positive regulation\\of protein metabolic\\process};
\node[term] (regpmodp) at (7062,380) {regulation of\\protein modification\\process};
\node[term] (paamod) at (7191,380) {peptidyl-amino\\acid modification};
\node[term] (rnamp) at (7316,380) {RNA metabolic\\process};
\node[term] (pregmbp) at (7408,380) {positive regulation\\of macromolecule\\biosynthetic\\process};
\node[term] (pregpmodp) at (6989,436) {positive regulation\\of protein modification\\process};
\node[term] (nregpmodp) at (7065,436) {negative regulation\\of protein modification\\process};
\node[term] (psmod) at (7189,436) {peptidyl-serine\\modification};
\node[term] (regrnamp) at (7271,436) {regulation of\\RNA metabolic\\process};
\node[term] (rnabp) at (7349,436) {RNA biosynthetic\\process};
\node[termkey] (psphos) at (6903,497) {peptidyl-serine\\phosphorylation};
\node[term] (pregrnamp) at (7271,497) {positive regulation\\of RNA metabolic\\process};
\node[term] (regrnabp) at (7371,497) {regulation of\\RNA biosynthetic\\process};
\node[term] (natt) at (7460,497) {nucleic acid-templated\\transcription};
\node[term] (pregrnabp) at (7333,551) {positive regulation\\of RNA biosynthetic\\process};
\node[term] (regnatt) at (7431,551) {regulation of\\nucleic acid-templated\\transcription};
\node[term] (dtt) at (7496,551) {DNA-templated\\transcription};
\node[term] (pregnatt) at (7386,595) {positive regulation\\of nucleic acid-templated\\transcription};
\node[term] (regdtt) at (7459,595) {regulation of\\DNA-templated\\transcription};
\node[termhit] (pregdtt) at (7459,637) {positive regulation\\of DNA-templated\\transcription};
\begin{pgfonlayer}{background}
\draw[isa](mcap) -- (apop);
\draw[isa](smcap) -- (mcap);
\draw[isa](regmcap) -- (regap);
\draw[isa](nregap) -- (regap);
\draw[isa](cmcap) -- (smcap);
\draw[isa](regsmcap) -- (regmcap);
\draw[isa](nregmcap) -- (regmcap);
\draw[isa](nregmcap) -- (nregap);
\draw[isa](regcmcap) -- (regsmcap);
\draw[isa](nregsmcap) -- (regsmcap);
\draw[isa](nregsmcap) -- (nregmcap);
\draw[isa](nregcmcap) -- (regcmcap);
\draw[isa](nregcmcap) -- (nregsmcap);
\draw[isa](apop) -- (pcd);
\draw[isa](regap) -- (regpcd);
\draw[isa](nregap) -- (nregpcd);
\draw[regl](regap) -- (apop);
\draw[regl](regmcap) -- (mcap);
\draw[regl](regsmcap) -- (smcap);
\draw[regl](regcmcap) -- (cmcap);
\draw[negreg](nregap) to[bend left=20] (apop);
\draw[negreg](nregmcap) to[bend right=15] (mcap);
\draw[negreg](nregsmcap) to[bend right=15] (smcap);
\draw[negreg](nregcmcap) to[bend left=15] (cmcap);
\draw[isa](pcd) -- (celldeath);
\draw[isa](regpcd) -- (regcd);
\draw[isa](nregpcd) -- (regpcd);
\draw[isa](nregpcd) -- (nregcd);
\draw[isa](ebpol) -- (ecpol);
\draw[isa](eapol) -- (ebpol);
\draw[isa](eepol) -- (eapol);
\draw[isa](ndeath) -- (celldeath);
\draw[isa](regnd) -- (regcd);
\draw[isa](nregcd) -- (regcd);
\draw[isa](nregnd) -- (regnd);
\draw[isa](nregnd) -- (nregcd);
\draw[isa](napop) -- (ndeath);
\draw[isa](napop) -- (apop);
\draw[isa](regnap) -- (regnd);
\draw[isa](regnap) -- (regap);
\draw[isa](nregnap) -- (regnap);
\draw[isa](nregnap) -- (nregnd);
\draw[isa](nregnap) -- (nregap);
\draw[isa](csadh) -- (cadh);
\draw[isa](sadcs) -- (csadh);
\draw[isa](cmadh) -- (csadh);
\draw[isa](regsadcs) -- (regcsadh);
\draw[isa](pregsadcs) -- (regsadcs);
\draw[isa](pregsadcs) -- (pregcsadh);
\draw[isa](regcmadh) -- (regcsadh);
\draw[isa](pregcsadh) -- (regcsadh);
\draw[isa](pregcsadh) -- (pregcadh);
\draw[isa](pregcmadh) -- (regcmadh);
\draw[isa](pregcmadh) -- (pregcsadh);
\draw[isa](regcsadh) -- (regcadh);
\draw[isa](cmig) -- (cmot);
\draw[isa](regcmot) -- (regloc);
\draw[isa](nregloc) -- (regloc);
\draw[isa](pregloc) -- (regloc);
\draw[isa](ameb) -- (cmig);
\draw[isa](mcmig) -- (cmig);
\draw[isa](regcmig) -- (regcmot);
\draw[isa](nregcmot) -- (regcmot);
\draw[isa](nregcmot) -- (nregloc);
\draw[isa](pregcmot) -- (regcmot);
\draw[isa](pregcmot) -- (pregloc);
\draw[isa](fibmig) -- (ameb);
\draw[isa](smcmig) -- (mcmig);
\draw[isa](nregcmig) -- (regcmig);
\draw[isa](nregcmig) -- (nregcmot);
\draw[isa](pregcmig) -- (regcmig);
\draw[isa](pregcmig) -- (pregcmot);
\draw[isa](regsmcmig) -- (regcmig);
\draw[isa](nregsmcmig) -- (regsmcmig);
\draw[isa](nregsmcmig) -- (nregcmig);
\draw[isa](pregcadh) -- (regcadh);
\draw[isa](regsmcprol) -- (regcpp);
\draw[isa](nregsmcprol) -- (regsmcprol);
\draw[isa](nregsmcprol) -- (nregcpp);
\draw[isa](smcprol) -- (mcprol);
\draw[isa](actcsko) -- (csko);
\draw[isa](actcsko) -- (afbp);
\draw[regl](regpcd) -- (pcd);
\draw[regl](regcd) -- (celldeath);
\draw[regl](regnd) -- (ndeath);
\draw[regl](regnap) -- (napop);
\draw[regl](regcsadh) -- (csadh);
\draw[regl](regsadcs) -- (sadcs);
\draw[regl](regcmadh) -- (cmadh);
\draw[regl](regloc) -- (locom);
\draw[regl](regcmot) -- (cmot);
\draw[regl](regcmig) -- (cmig);
\draw[regl](regsmcmig) -- (smcmig);
\draw[regl](regcadh) -- (cadh);
\draw[regl](regsmcprol) -- (smcprol);
\draw[regl](regacsko) to[bend left=10] (actcsko);
\draw[negreg](nregpcd) to[bend left=10] (pcd);
\draw[negreg](nregcd) to[bend right=10] (celldeath);
\draw[negreg](nregnd) to[bend left=15] (ndeath);
\draw[negreg](nregnap) to[bend right=10] (napop);
\draw[negreg](nregloc) to[bend left=10] (locom);
\draw[negreg](nregcmot) to[bend left=15] (cmot);
\draw[negreg](nregcmig) to[bend left=20] (cmig);
\draw[negreg](nregsmcmig) to[bend left=10] (smcmig);
\draw[negreg](nregsmcprol) to[bend left=20] (smcprol);
\draw[posreg](pregsadcs) to[bend left=30] (sadcs);
\draw[posreg](pregcsadh) to[bend right=15] (csadh);
\draw[posreg](pregcmadh) to[bend left=10] (cmadh);
\draw[posreg](pregloc) -- (locom);
\draw[posreg](pregcmot) to[bend left=15] (cmot);
\draw[posreg](pregcmig) -- (cmig);
\draw[posreg](pregcadh) -- (cadh);
\draw[isa](celldeath) -- (cellproc);
\draw[isa](ecpol) -- (cellproc);
\draw[isa](cmot) -- (cellproc);
\draw[isa](cmot) -- (locom);
\draw[isa](cadh) -- (cellproc);
\draw[isa](locom) -- (bp);
\draw[isa](regcd) -- (regcp);
\draw[isa](regloc) -- (regbp);
\draw[isa](nregcd) -- (nregcp);
\draw[isa](nregloc) -- (nregbp);
\draw[isa](pregloc) -- (pregbp);
\draw[isa](pregcadh) -- (pregcp);
\draw[isa](regcadh) -- (regcp);
\draw[isa](cellproc) -- (bp);
\draw[isa](afbp) -- (cellproc);
\draw[isa](nregbp) -- (regbp);
\draw[isa](cpp) -- (cellproc);
\draw[isa](ccob) -- (cellproc);
\draw[isa](ccycle) -- (cellproc);
\draw[isa](regcp) -- (regbp);
\draw[isa](ccomm) -- (cellproc);
\draw[isa](signaling) -- (bp);
\draw[isa](signaling) -- (cellproc);
\draw[isa](nregcp) -- (regcp);
\draw[isa](nregcp) -- (nregbp);
\draw[isa](mcprol) -- (cpp);
\draw[isa](regcpp) -- (regcp);
\draw[isa](npcp) -- (cpp);
\draw[isa](regafbp) -- (regcp);
\draw[isa](cco) -- (ccob);
\draw[isa](ccb) -- (ccob);
\draw[isa](regcc) -- (regcp);
\draw[isa](ccsig) -- (ccomm);
\draw[isa](regccomm) -- (regcp);
\draw[isa](pregcp) -- (regcp);
\draw[isa](pregcp) -- (pregbp);
\draw[isa](regsig) -- (regbp);
\draw[isa](nregcpp) -- (regcpp);
\draw[isa](nregcpp) -- (nregcp);
\draw[isa](regnpcp) -- (regcpp);
\draw[isa](pregcpp) -- (regcpp);
\draw[isa](pregcpp) -- (pregcp);
\draw[isa](orgo) -- (cco);
\draw[isa](sfo) -- (cco);
\draw[isa](regcco) -- (regcp);
\draw[isa](cca) -- (cco);
\draw[isa](ist) -- (sigtr);
\draw[isa](pregccomm) -- (regccomm);
\draw[isa](pregccomm) -- (pregcp);
\draw[isa](csrsp) -- (sigtr);
\draw[isa](regst) -- (regccomm);
\draw[isa](regst) -- (regsig);
\draw[isa](regccs) -- (regcco);
\draw[isa](regccs) -- (regass);
\draw[isa](pregsig) -- (regsig);
\draw[isa](pregsig) -- (pregbp);
\draw[isa](nregnpcp) -- (regnpcp);
\draw[isa](nregnpcp) -- (nregcpp);
\draw[isa](csko) -- (orgo);
\draw[isa](regorgo) -- (regcco);
\draw[isa](cpo) -- (cco);
\draw[isa](pregcco) -- (regcco);
\draw[isa](pregcco) -- (pregcp);
\draw[isa](ccswnt) -- (ccsig);
\draw[isa](csrccs) -- (csrsp);
\draw[isa](nfkb) -- (ist);
\draw[isa](pkbs) -- (ist);
\draw[isa](regist) -- (regst);
\draw[isa](mapk) -- (ist);
\draw[isa](intsig) -- (csrsp);
\draw[isa](elrp) -- (csrsp);
\draw[isa](pregst) -- (regst);
\draw[isa](pregst) -- (pregsig);
\draw[isa](pregst) -- (pregccomm);
\draw[isa](regcsize) -- (regccs);
\draw[isa](regcsko) -- (regorgo);
\draw[isa](regcpo) -- (regcco);
\draw[isa](pmbcpo) -- (cpo);
\draw[isa](wnt) -- (csrccs);
\draw[isa](regnfkb) -- (regist);
\draw[isa](regpkbs) -- (regist);
\draw[isa](regmapk) -- (regist);
\draw[isa](pregist) -- (regist);
\draw[isa](pregist) -- (pregst);
\draw[isa](tmrst) -- (elrp);
\draw[isa](regacsko) -- (regcsko);
\draw[isa](regacsko) -- (regafbp);
\draw[isa](pregcpo) -- (regcpo);
\draw[isa](pregcpo) -- (pregcco);
\draw[isa](regpmbcpo) -- (regcpo);
\draw[isa](cwnt) -- (wnt);
\draw[isa](regwnt) -- (regst);
\draw[isa](pregnfkb) -- (regnfkb);
\draw[isa](pregnfkb) -- (pregist);
\draw[isa](pregpkbs) -- (regpkbs);
\draw[isa](pregpkbs) -- (pregist);
\draw[isa](pregmapk) -- (regmapk);
\draw[isa](pregmapk) -- (pregist);
\draw[isa](regtmrst) -- (regst);
\draw[isa](regcwnt) -- (regwnt);
\draw[isa](pregwnt) -- (regwnt);
\draw[isa](pregwnt) -- (pregst);
\draw[isa](pregtmrst) -- (regtmrst);
\draw[isa](pregtmrst) -- (pregst);
\draw[isa](pregcwnt) -- (regcwnt);
\draw[isa](pregcwnt) -- (pregwnt);
\draw[isa](csko) -- (cco);
\draw[regl](regcp) -- (cellproc);
\draw[regl](regcpp) -- (cpp);
\draw[regl](regafbp) -- (afbp);
\draw[regl](regcc) -- (ccycle);
\draw[regl](regccomm) -- (ccomm);
\draw[regl](regsig) -- (signaling);
\draw[regl](regnpcp) -- (npcp);
\draw[regl](regcco) -- (cco);
\draw[regl](regst) -- (sigtr);
\draw[regl](regorgo) -- (orgo);
\draw[regl](regist) -- (ist);
\draw[regl](regcsko) -- (csko);
\draw[regl](regcpo) -- (cpo);
\draw[regl](regnfkb) -- (nfkb);
\draw[regl](regpkbs) -- (pkbs);
\draw[regl](regmapk) -- (mapk);
\draw[regl](regpmbcpo) -- (pmbcpo);
\draw[regl](regwnt) -- (wnt);
\draw[regl](regtmrst) -- (tmrst);
\draw[regl](regcwnt) -- (cwnt);
\draw[negreg](nregbp) -- (bp);
\draw[negreg](nregcp) to[bend left=15] (cellproc);
\draw[negreg](nregcpp) to[bend right=10] (cpp);
\draw[negreg](nregnpcp) to[bend right=10] (npcp);
\draw[posreg](pregcp) -- (cellproc);
\draw[posreg](pregcpp) to[bend right=30] (cpp);
\draw[posreg](pregccomm) to[bend right=10] (ccomm);
\draw[posreg](pregsig) -- (signaling);
\draw[posreg](pregcco) to[bend right=20] (cco);
\draw[posreg](pregst) -- (sigtr);
\draw[posreg](pregist) -- (ist);
\draw[posreg](pregcpo) -- (cpo);
\draw[posreg](pregnfkb) to[bend left=15] (nfkb);
\draw[posreg](pregpkbs) to[bend left=15] (pkbs);
\draw[posreg](pregmapk) to[bend right=20] (mapk);
\draw[posreg](pregwnt) -- (wnt);
\draw[posreg](pregtmrst) to[bend left=10] (tmrst);
\draw[posreg](pregcwnt) -- (cwnt);
\draw[partof](sigtr) -- (ccomm);
\draw[partof](sigtr) -- (signaling);
\draw[partof](sigtr) -- (crstim);
\draw[partof](cca) -- (ccb);
\draw[partof](csrccs) to[bend right=20] (ccsig);
\draw[partof](wnt) -- (ccswnt);
\draw[isa](bioreg) -- (bp);
\draw[isa](rstim) -- (bp);
\draw[isa](regbq) -- (bioreg);
\draw[isa](regbp) -- (bioreg);
\draw[isa](crstim) -- (rstim);
\draw[isa](crstim) -- (cellproc);
\draw[isa](regrstim) -- (regbp);
\draw[isa](rstress) -- (rstim);
\draw[isa](rchem) -- (rstim);
\draw[isa](rendo) -- (rstim);
\draw[isa](pregbp) -- (regbp);
\draw[isa](growth) -- (bp);
\draw[isa](cdp) -- (devproc);
\draw[isa](cdp) -- (cellproc);
\draw[isa](crchem) -- (rchem);
\draw[isa](crchem) -- (crstim);
\draw[isa](crstress) -- (rstress);
\draw[isa](crstress) -- (crstim);
\draw[isa](regass) -- (regbq);
\draw[isa](pregrstim) -- (regrstim);
\draw[isa](pregrstim) -- (pregbp);
\draw[isa](crendo) -- (rendo);
\draw[isa](crendo) -- (crstim);
\draw[isa](rgf) -- (rendo);
\draw[isa](ros) -- (rchem);
\draw[isa](reggr) -- (regbp);
\draw[isa](cdiff) -- (cdp);
\draw[isa](crgf) -- (rgf);
\draw[isa](crgf) -- (crendo);
\draw[isa](crgf) -- (cros);
\draw[isa](rbmp) -- (rgf);
\draw[isa](cros) -- (ros);
\draw[isa](cros) -- (crchem);
\draw[isa](rcyt) -- (ros);
\draw[isa](cgrowth) -- (growth);
\draw[isa](cgrowth) -- (cellproc);
\draw[isa](preggr) -- (reggr);
\draw[isa](preggr) -- (pregbp);
\draw[isa](regmf) -- (regbp);
\draw[isa](ccmorph) -- (cco);
\draw[isa](ccmorph) -- (asmorph);
\draw[isa](cdev) -- (cdp);
\draw[isa](regcdiff) -- (regcp);
\draw[isa](regcdiff) -- (regdp);
\draw[isa](regcrgf) -- (regrstim);
\draw[isa](crbmp) -- (rbmp);
\draw[isa](crbmp) -- (crgf);
\draw[isa](crcyt) -- (rcyt);
\draw[isa](crcyt) -- (cros);
\draw[isa](rtnf) -- (rcyt);
\draw[isa](regcg) -- (reggr);
\draw[isa](regcg) -- (regcp);
\draw[isa](pregmf) -- (regmf);
\draw[isa](regca) -- (regmf);
\draw[isa](nregmf) -- (regmf);
\draw[isa](cpmorph) -- (ccmorph);
\draw[isa](ccaim) -- (cca);
\draw[isa](devcg) -- (cgrowth);
\draw[isa](devcg) -- (devgr);
\draw[isa](regcdev) -- (regcdiff);
\draw[isa](pregcdiff) -- (regcdiff);
\draw[isa](pregcdiff) -- (pregdp);
\draw[isa](cytsig) -- (csrsp);
\draw[isa](crtnf) -- (rtnf);
\draw[isa](crtnf) -- (crcyt);
\draw[isa](regecg) -- (regcg);
\draw[isa](regecg) -- (regcsize);
\draw[isa](pregcg) -- (regcg);
\draw[isa](pregcg) -- (preggr);
\draw[isa](pregca) -- (regca);
\draw[isa](pregca) -- (pregmf);
\draw[isa](regta) -- (regca);
\draw[isa](nregca) -- (regca);
\draw[isa](nregca) -- (nregmf);
\draw[isa](cprojmorph) -- (cpmorph);
\draw[isa](pregcdev) -- (regcdev);
\draw[isa](pregcdev) -- (pregcdiff);
\draw[isa](ndiff) -- (cdiff);
\draw[isa](bmpsig) -- (tmrst);
\draw[isa](tnfsig) -- (cytsig);
\draw[isa](pregta) -- (regta);
\draw[isa](pregta) -- (pregca);
\draw[isa](nregta) -- (regta);
\draw[isa](nregta) -- (nregca);
\draw[isa](ndev) -- (cdev);
\draw[isa](regbmp) -- (regtmrst);
\draw[isa](npdev) -- (pmbcpo);
\draw[isa](pmbcpm) -- (cprojmorph);
\draw[isa](pmbcpm) -- (pmbcpo);
\draw[isa](pregbmp) -- (regbmp);
\draw[isa](pregbmp) -- (pregtmrst);
\draw[isa](regnpd) -- (regpmbcpo);
\draw[isa](regnpd) -- (regcdev);
\draw[isa](axdev) -- (npdev);
\draw[isa](npmorph) -- (pmbcpm);
\draw[isa](cmind) -- (cmid);
\draw[isa](axgen) -- (npmorph);
\draw[isa](npext) -- (devcg);
\draw[isa](regaxgen) -- (regnpd);
\draw[isa](axext) -- (npext);
\draw[isa](pregaxgen) -- (regaxgen);
\draw[isa](regaxext) -- (regaxgen);
\draw[isa](pregaxext) -- (regaxext);
\draw[isa](pregaxext) -- (pregaxgen);
\draw[regl](regbp) -- (bp);
\draw[regl](regrstim) -- (rstim);
\draw[regl](reggr) -- (growth);
\draw[regl](regcdiff) -- (cdiff);
\draw[regl](regdp) -- (devproc);
\draw[regl](regcrgf) -- (crgf);
\draw[regl](regcg) -- (cgrowth);
\draw[regl](regcdev) -- (cdev);
\draw[regl](regbmp) -- (bmpsig);
\draw[regl](regnpd) -- (npdev);
\draw[regl](regaxgen) -- (axgen);
\draw[regl](regaxext) -- (axext);
\draw[posreg](pregbp) -- (bp);
\draw[posreg](pregrstim) -- (rstim);
\draw[posreg](preggr) to[bend right=30] (growth);
\draw[posreg](pregcdiff) to[bend left=25] (cdiff);
\draw[posreg](pregcg) -- (cgrowth);
\draw[posreg](pregcdev) to[bend left=15] (cdev);
\draw[posreg](pregbmp) to[bend right=10] (bmpsig);
\draw[posreg](pregaxgen) to[bend left=35] (axgen);
\draw[posreg](pregaxext) to[bend right=10] (axext);
\draw[partof](cdev) -- (cdiff);
\draw[partof](ccaim) -- (ccmorph);
\draw[partof](devcg) -- (cdev);
\draw[partof](cytsig) -- (crcyt);
\draw[partof](tnfsig) -- (crtnf);
\draw[partof](bmpsig) -- (crbmp);
\draw[partof](ndev) -- (ndiff);
\draw[partof](ndiff) -- (genneu);
\draw[partof](myelas) -- (myel);
\draw[partof](npdev) -- (ndev);
\draw[partof](npmorph) -- (npdev);
\draw[partof](cmind) -- (ndev);
\draw[partof](axgen) -- (axdev);
\draw[partof](axgen) -- (cmind);
\draw[partof](npext) -- (npmorph);
\draw[partof](axext) -- (axgen);
\draw[partof](cprojmorph) -- (cdev);
\draw[isa](devproc) -- (bp);
\draw[isa](pregdp) -- (regdp);
\draw[isa](devgr) -- (growth);
\draw[isa](msdev) -- (asdev);
\draw[isa](regmop) -- (regbp);
\draw[isa](pregmop) -- (regmop);
\draw[isa](pregmop) -- (pregbp);
\draw[isa](regmod) -- (regmop);
\draw[isa](regmod) -- (regdp);
\draw[isa](nsdev) -- (sysdev);
\draw[isa](regdevgr) -- (regdp);
\draw[isa](regdevgr) -- (reggr);
\draw[isa](myodiff) -- (cdiff);
\draw[isa](regasm) -- (regdp);
\draw[isa](cmorph) -- (ccmorph);
\draw[isa](cmorph) -- (asmorph);
\draw[isa](dgim) -- (devgr);
\draw[isa](osteo) -- (cdiff);
\draw[isa](regnsd) -- (regmod);
\draw[isa](pccmp) -- (phmp);
\draw[isa](axensh) -- (ensh);
\draw[isa](ensh) -- (mop);
\draw[isa](csen) -- (cellproc);
\draw[isa](regmyo) -- (regcdiff);
\draw[isa](pregdevgr) -- (regdevgr);
\draw[isa](pregdevgr) -- (pregdp);
\draw[isa](cmid) -- (cmorph);
\draw[isa](regcmorph) -- (regasm);
\draw[isa](regcmorph) -- (regcco);
\draw[isa](genneu) -- (neurog);
\draw[isa](glio) -- (neurog);
\draw[isa](regosteo) -- (regcdiff);
\draw[isa](regcsen) -- (regcp);
\draw[isa](pregnsd) -- (regnsd);
\draw[isa](phos) -- (pccmp);
\draw[isa](myel) -- (axensh);
\draw[isa](pregmyo) -- (regmyo);
\draw[isa](pregmyo) -- (pregcdiff);
\draw[isa](gcdiff) -- (cdiff);
\draw[isa](regcmid) -- (regcmorph);
\draw[isa](pregosteo) -- (regosteo);
\draw[isa](pregosteo) -- (pregcdiff);
\draw[isa](pregcsen) -- (regcsen);
\draw[isa](regneurog) -- (regnsd);
\draw[isa](gcdev) -- (cdev);
\draw[isa](pregcmid) -- (regcmid);
\draw[isa](scdiff) -- (gcdiff);
\draw[isa](pregneurog) -- (regneurog);
\draw[isa](pregneurog) -- (pregnsd);
\draw[isa](pnsae) -- (axensh);
\draw[isa](scdev) -- (gcdev);
\draw[isa](myelpns) -- (myel);
\draw[isa](myelpns) -- (pnsae);
\draw[isa](ddev) -- (npdev);
\draw[isa](dmorph) -- (npmorph);
\draw[isa](regddev) -- (regnpd);
\draw[isa](regdmorph) -- (regddev);
\draw[isa](regdmorph) -- (regcmorph);
\draw[isa](pregdmorph) -- (regdmorph);
\draw[regl](regdp) -- (devproc);
\draw[regl](regmop) -- (mop);
\draw[regl](regmod) -- (mod);
\draw[regl](regdevgr) -- (devgr);
\draw[regl](regnsd) -- (nsdev);
\draw[regl](regasm) -- (asmorph);
\draw[regl](regmyo) -- (myodiff);
\draw[regl](regcmorph) -- (cmorph);
\draw[regl](regosteo) -- (osteo);
\draw[regl](regcsen) -- (csen);
\draw[regl](regcmid) -- (cmid);
\draw[regl](regneurog) to[bend right=20] (neurog);
\draw[regl](regddev) -- (ddev);
\draw[regl](regdmorph) -- (dmorph);
\draw[posreg](pregdp) -- (devproc);
\draw[posreg](pregmop) -- (mop);
\draw[posreg](pregdevgr) to[bend right=25] (devgr);
\draw[posreg](pregnsd) -- (nsdev);
\draw[posreg](pregmyo) to[bend right=30] (myodiff);
\draw[posreg](pregosteo) -- (osteo);
\draw[posreg](pregcsen) to[bend left=10] (csen);
\draw[posreg](pregcmid) -- (cmid);
\draw[posreg](pregneurog) to[bend right=30] (neurog);
\draw[posreg](pregdmorph) -- (dmorph);
\draw[partof](devgr) -- (devproc);
\draw[partof](asmorph) -- (asdev);
\draw[partof](myodiff) -- (msdev);
\draw[partof](asfim) -- (asmorph);
\draw[partof](dgim) -- (asmorph);
\draw[partof](neurog) -- (nsdev);
\draw[partof](gcdiff) -- (glio);
\draw[partof](gcdev) -- (gcdiff);
\draw[partof](scdiff) -- (pnsdev);
\draw[partof](scdev) -- (scdiff);
\draw[partof](myelpns) -- (scdev);
\draw[partof](dmorph) -- (ddev);
\draw[partof](cmid) -- (cdiff);
\draw[partof](osteo) -- (ossif);
\draw[isa](asdev) -- (devproc);
\draw[isa](mop) -- (bp);
\draw[isa](mod) -- (mop);
\draw[isa](mod) -- (asdev);
\draw[isa](ossif) -- (mop);
\draw[isa](cmp) -- (metab);
\draw[isa](cmp) -- (cellproc);
\draw[isa](regcmp) -- (regmp);
\draw[isa](regcmp) -- (regcp);
\draw[isa](tisdev) -- (asdev);
\draw[isa](circdev) -- (sysdev);
\draw[isa](aodev) -- (asdev);
\draw[isa](rsdev) -- (sysdev);
\draw[isa](nregmp) -- (regmp);
\draw[isa](nregmp) -- (nregbp);
\draw[isa](camp) -- (cmp);
\draw[isa](phmp) -- (metab);
\draw[isa](regphmp) -- (regcmp);
\draw[isa](nregcmp) -- (regcmp);
\draw[isa](nregcmp) -- (nregmp);
\draw[isa](pregcmp) -- (regcmp);
\draw[isa](pregcmp) -- (pregmp);
\draw[isa](mbs) -- (asmorph);
\draw[isa](tismorph) -- (asmorph);
\draw[isa](pnsdev) -- (asdev);
\draw[isa](aomorph) -- (asmorph);
\draw[isa](epidev) -- (tisdev);
\draw[isa](nervedev) -- (aodev);
\draw[isa](heartdev) -- (aodev);
\draw[isa](kiddev) -- (aodev);
\draw[isa](nregncmp) -- (regncmp);
\draw[isa](nregncmp) -- (nregmp);
\draw[isa](regphtmp) -- (regphmp);
\draw[isa](pregphmp) -- (regphmp);
\draw[isa](pregphmp) -- (pregcmp);
\draw[isa](nregphmp) -- (regphmp);
\draw[isa](nregphmp) -- (nregcmp);
\draw[isa](tubemorph) -- (asmorph);
\draw[isa](moe) -- (tismorph);
\draw[isa](heartmorph) -- (aomorph);
\draw[isa](kidmorph) -- (aomorph);
\draw[isa](kedev) -- (epidev);
\draw[isa](mesodev) -- (kiddev);
\draw[isa](regphos) -- (regphtmp);
\draw[isa](pregphtmp) -- (regphtmp);
\draw[isa](pregphtmp) -- (pregphmp);
\draw[isa](nregphtmp) -- (regphtmp);
\draw[isa](nregphtmp) -- (nregphmp);
\draw[isa](mobe) -- (mbs);
\draw[isa](mobe) -- (moe);
\draw[isa](etm) -- (tubemorph);
\draw[isa](etm) -- (moe);
\draw[isa](nephmorph) -- (kidmorph);
\draw[isa](pphos) -- (phos);
\draw[isa](medev) -- (kedev);
\draw[isa](regka) -- (regphos);
\draw[isa](regka) -- (regta);
\draw[isa](pregphos) -- (regphos);
\draw[isa](pregphos) -- (pregphtmp);
\draw[isa](nregphos) -- (regphos);
\draw[isa](nregphos) -- (nregphtmp);
\draw[isa](bmet) -- (mobe);
\draw[isa](bmet) -- (etm);
\draw[isa](rtmorph) -- (etm);
\draw[isa](ntdev) -- (rtdev);
\draw[isa](ntdev) -- (nedev);
\draw[isa](regpphos) -- (regphos);
\draw[isa](mtdev) -- (medev);
\draw[isa](pregka) -- (regka);
\draw[isa](pregka) -- (pregphos);
\draw[isa](pregka) -- (pregta);
\draw[isa](nregka) -- (regka);
\draw[isa](nregka) -- (nregphos);
\draw[isa](nregka) -- (nregta);
\draw[isa](regpka) -- (regka);
\draw[isa](regpka) -- (regpphos);
\draw[isa](ntmorph) -- (rtmorph);
\draw[isa](ntmorph) -- (nemorph);
\draw[isa](pregpphos) -- (regpphos);
\draw[isa](pregpphos) -- (pregphos);
\draw[isa](nregpphos) -- (regpphos);
\draw[isa](nregpphos) -- (nregphos);
\draw[isa](pregpka) -- (regpka);
\draw[isa](pregpka) -- (pregka);
\draw[isa](regpstka) -- (regpka);
\draw[isa](nregpka) -- (regpka);
\draw[isa](nregpka) -- (nregka);
\draw[isa](mtmorph) -- (ntmorph);
\draw[isa](ubdev) -- (mtdev);
\draw[isa](pregpstka) -- (regpstka);
\draw[isa](pregpstka) -- (pregpka);
\draw[isa](regmapka) -- (regpstka);
\draw[isa](ubmorph) -- (mtmorph);
\draw[isa](pregmapka) -- (regmapka);
\draw[isa](pregmapka) -- (pregpstka);
\draw[isa](bubm) -- (bmet);
\draw[regl](regcmp) -- (cmp);
\draw[regl](regphmp) -- (phmp);
\draw[regl](regphtmp) -- (pccmp);
\draw[regl](regphos) -- (phos);
\draw[regl](regpphos) -- (pphos);
\draw[negreg](nregmp) -- (metab);
\draw[negreg](nregcmp) to[bend left=15] (cmp);
\draw[negreg](nregphmp) to[bend right=10] (phmp);
\draw[negreg](nregphtmp) to[bend right=10] (pccmp);
\draw[negreg](nregphos) to[bend right=15] (phos);
\draw[negreg](nregpphos) to[bend right=15] (pphos);
\draw[posreg](pregcmp) to[bend right=15] (cmp);
\draw[posreg](pregphmp) to[bend left=25] (phmp);
\draw[posreg](pregphtmp) to[bend left=15] (pccmp);
\draw[posreg](pregphos) to[bend left=25] (phos);
\draw[posreg](pregpphos) to[bend right=30] (pphos);
\draw[partof](sysdev) -- (mod);
\draw[partof](tismorph) -- (tisdev);
\draw[partof](aomorph) -- (aodev);
\draw[partof](heartdev) -- (circdev);
\draw[partof](kiddev) -- (rsdev);
\draw[partof](tubemorph) -- (tubedev);
\draw[partof](moe) -- (epidev);
\draw[partof](heartmorph) -- (heartdev);
\draw[partof](kidmorph) -- (kiddev);
\draw[partof](rtdev) to[bend left=15] (kiddev);
\draw[partof](kedev) -- (kiddev);
\draw[partof](nephdev) -- (kiddev);
\draw[partof](oftm) -- (heartmorph);
\draw[partof](nephmorph) -- (nephdev);
\draw[partof](nedev) -- (nephdev);
\draw[partof](medev) -- (mesodev);
\draw[partof](rtmorph) to[bend left=20] (rtdev);
\draw[partof](nemorph) -- (nephmorph);
\draw[partof](nemorph) -- (nedev);
\draw[partof](ntmorph) -- (ntdev);
\draw[partof](mtmorph) to[bend right=15] (mtdev);
\draw[partof](ubmorph) -- (ubdev);
\draw[partof](bubm) -- (ubmorph);
\draw[partof](pnsdev) -- (nsdev);
\draw[partof](tubedev) to[bend right=20] (mod);
\draw[isa](metab) -- (bp);
\draw[isa](regmp) -- (regbp);
\draw[isa](ncmp) -- (metab);
\draw[isa](biosyn) -- (metab);
\draw[isa](osmp) -- (metab);
\draw[isa](hetmp) -- (cmp);
\draw[isa](cncmp) -- (ncmp);
\draw[isa](cncmp) -- (cmp);
\draw[isa](regncmp) -- (regmp);
\draw[isa](pregmp) -- (regmp);
\draw[isa](cbp) -- (biosyn);
\draw[isa](cbp) -- (cmp);
\draw[isa](primp) -- (metab);
\draw[isa](regbiosyn) -- (regmp);
\draw[isa](oncmp) -- (osmp);
\draw[isa](occmp) -- (osmp);
\draw[isa](mmp) -- (osmp);
\draw[isa](osbp) -- (biosyn);
\draw[isa](osbp) -- (osmp);
\draw[isa](acbp) -- (camp);
\draw[isa](acbp) -- (cbp);
\draw[isa](nbcmp) -- (hetmp);
\draw[isa](nbcmp) -- (cncmp);
\draw[isa](nbcmp) -- (camp);
\draw[isa](hetbp) -- (hetmp);
\draw[isa](hetbp) -- (cbp);
\draw[isa](cncbp) -- (cncmp);
\draw[isa](cncbp) -- (cbp);
\draw[isa](pregncmp) -- (regncmp);
\draw[isa](pregncmp) -- (pregmp);
\draw[isa](tubedev) -- (asdev);
\draw[isa](regprimp) -- (regmp);
\draw[isa](regcbp) -- (regbiosyn);
\draw[isa](regcbp) -- (regcmp);
\draw[isa](pregbiosyn) -- (regbiosyn);
\draw[isa](pregbiosyn) -- (pregmp);
\draw[isa](protmp) -- (oncmp);
\draw[isa](protmp) -- (mmp);
\draw[isa](regmmp) -- (regmp);
\draw[isa](occbp) -- (occmp);
\draw[isa](occbp) -- (osbp);
\draw[isa](mmod) -- (mmp);
\draw[isa](mbp) -- (mmp);
\draw[isa](mbp) -- (osbp);
\draw[isa](geneexp) -- (mmp);
\draw[isa](regnbcmp) -- (regncmp);
\draw[isa](regnbcmp) -- (regcmp);
\draw[isa](nbcbp) -- (nbcmp);
\draw[isa](nbcbp) -- (hetbp);
\draw[isa](nbcbp) -- (acbp);
\draw[isa](nbcbp) -- (cncbp);
\draw[isa](pregcbp) -- (regcbp);
\draw[isa](pregcbp) -- (pregbiosyn);
\draw[isa](nregmmp) -- (regmmp);
\draw[isa](nregmmp) -- (nregmp);
\draw[isa](regprotmp) -- (regmmp);
\draw[isa](pmodp) -- (protmp);
\draw[isa](pmodp) -- (mmod);
\draw[isa](pregmmp) -- (regmmp);
\draw[isa](nacmp) -- (nbcmp);
\draw[isa](nacmp) -- (mmp);
\draw[isa](regmbp) -- (regmmp);
\draw[isa](regmbp) -- (regbiosyn);
\draw[isa](reggeneexp) -- (regmmp);
\draw[isa](pregnbcmp) -- (regnbcmp);
\draw[isa](pregnbcmp) -- (pregncmp);
\draw[isa](nregprotmp) -- (regprotmp);
\draw[isa](nregprotmp) -- (nregmmp);
\draw[isa](pregprotmp) -- (regprotmp);
\draw[isa](pregprotmp) -- (pregmmp);
\draw[isa](regpmodp) -- (regprotmp);
\draw[isa](paamod) -- (pmodp);
\draw[isa](rnamp) -- (nacmp);
\draw[isa](pregmbp) -- (regmbp);
\draw[isa](pregmbp) -- (pregmmp);
\draw[isa](pregpmodp) -- (regpmodp);
\draw[isa](pregpmodp) -- (pregprotmp);
\draw[isa](nregpmodp) -- (regpmodp);
\draw[isa](nregpmodp) -- (nregprotmp);
\draw[isa](psmod) -- (paamod);
\draw[isa](regrnamp) -- (regnbcmp);
\draw[isa](rnabp) -- (rnamp);
\draw[isa](rnabp) -- (nbcbp);
\draw[isa](rnabp) -- (mbp);
\draw[isa](psphos) -- (psmod);
\draw[isa](psphos) -- (pphos);
\draw[isa](pregrnamp) -- (regrnamp);
\draw[isa](pregrnamp) -- (pregnbcmp);
\draw[isa](regrnabp) -- (regrnamp);
\draw[isa](regrnabp) -- (regmbp);
\draw[isa](natt) -- (rnabp);
\draw[isa](pregrnabp) -- (regrnabp);
\draw[isa](pregrnabp) -- (pregrnamp);
\draw[isa](pregrnabp) -- (pregmbp);
\draw[isa](regnatt) -- (regrnabp);
\draw[isa](dtt) -- (natt);
\draw[isa](pregnatt) -- (regnatt);
\draw[isa](pregnatt) -- (pregrnabp);
\draw[isa](regdtt) -- (regnatt);
\draw[isa](pregdtt) -- (regdtt);
\draw[isa](pregdtt) -- (pregnatt);
\draw[regl](regmp) -- (metab);
\draw[regl](regncmp) -- (ncmp);
\draw[regl](regbiosyn) -- (biosyn);
\draw[regl](regprimp) -- (primp);
\draw[regl](regcbp) -- (cbp);
\draw[regl](regmmp) -- (mmp);
\draw[regl](regnbcmp) -- (nbcmp);
\draw[regl](regprotmp) -- (protmp);
\draw[regl](regmbp) -- (mbp);
\draw[regl](reggeneexp) -- (geneexp);
\draw[regl](regpmodp) -- (pmodp);
\draw[regl](regrnamp) -- (rnamp);
\draw[regl](regrnabp) -- (rnabp);
\draw[regl](regnatt) -- (natt);
\draw[regl](regdtt) -- (dtt);
\draw[negreg](nregmmp) to[bend left=20] (mmp);
\draw[negreg](nregprotmp) to[bend left=20] (protmp);
\draw[negreg](nregpmodp) to[bend right=10] (pmodp);
\draw[negreg](nregncmp) to[bend right=10] (ncmp);
\draw[posreg](pregmp) -- (metab);
\draw[posreg](pregncmp) to[bend right=20] (ncmp);
\draw[posreg](pregcbp) to[bend right=20] (cbp);
\draw[posreg](pregbiosyn) -- (biosyn);
\draw[posreg](pregmmp) -- (mmp);
\draw[posreg](pregnbcmp) to[bend right=10] (nbcmp);
\draw[posreg](pregprotmp) to[bend left=15] (protmp);
\draw[posreg](pregpmodp) to[bend right=10] (pmodp);
\draw[posreg](pregmbp) to[bend right=20] (mbp);
\draw[posreg](pregrnamp) to[bend right=10] (rnamp);
\draw[posreg](pregrnabp) -- (rnabp);
\draw[posreg](pregnatt) -- (natt);
\draw[posreg](pregdtt) to[bend right=10] (dtt);
\draw[partof](natt) -- (geneexp);
\end{pgfonlayer}
\end{tikzpicture}
\end{document}
